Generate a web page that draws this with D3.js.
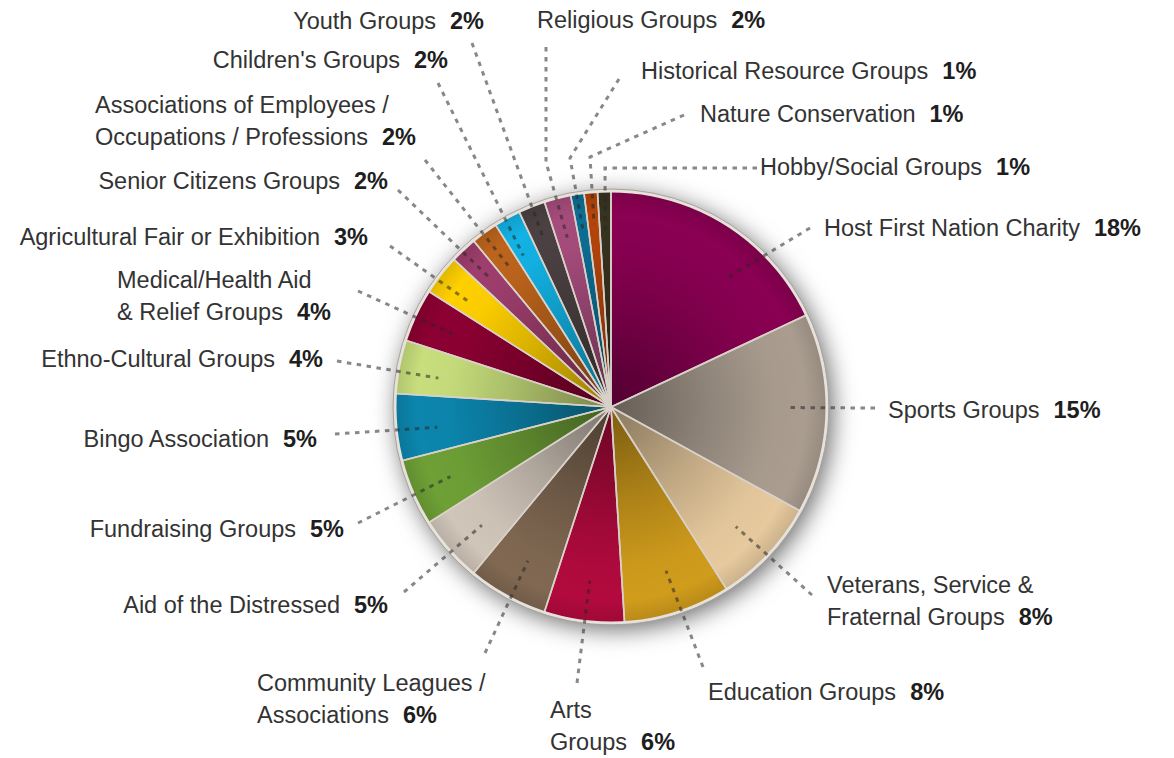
<!DOCTYPE html>
<html>
<head>
<meta charset="utf-8">
<script src="https://cdn.jsdelivr.net/npm/d3@7/dist/d3.min.js"></script>
<style>
  html, body { margin: 0; padding: 0; background: #ffffff; }
  svg { display: block; }
</style>
</head>
<body>
<svg id="chart" width="1174" height="758"></svg>
<script>
// ---- data ----
const categories = [
  "Host First Nation Charity",
  "Sports Groups",
  "Veterans, Service &\nFraternal Groups",
  "Education Groups",
  "Arts\nGroups",
  "Community Leagues /\nAssociations",
  "Aid of the Distressed",
  "Fundraising Groups",
  "Bingo Association",
  "Ethno-Cultural Groups",
  "Medical/Health Aid\n& Relief Groups",
  "Agricultural Fair or Exhibition",
  "Senior Citizens Groups",
  "Associations of Employees /\nOccupations / Professions",
  "Children's Groups",
  "Youth Groups",
  "Religious Groups",
  "Historical Resource Groups",
  "Nature Conservation",
  "Hobby/Social Groups"
];
const values = [18, 15, 8, 8, 6, 6, 5, 5, 5, 4, 4, 3, 2, 2, 2, 2, 2, 1, 1, 1];
const pctLabels = ["18%", "15%", "8%", "8%", "6%", "6%", "5%", "5%", "5%", "4%", "4%", "3%", "2%", "2%", "2%", "2%", "2%", "1%", "1%", "1%"];
const colors = [
  "#8a0052", "#aa9d90", "#e6c99d", "#d09c1c", "#b20a3e", "#806852", "#d0c5b9",
  "#6ea036", "#0c86ae", "#c8de7c", "#8c0032", "#ffd000", "#9e3e6d", "#bc641c",
  "#12b2e4", "#4c4142", "#a64c7c", "#0c6e94", "#b4440a", "#38331f"
];

// ---- layout (label placement, leader bends; inner end via slice angle) ----
const labelLayout = [
  {x: 824, y: 236, anchor: "start", pts: [[810, 228]], t: 0.65, r: 0.81},
  {x: 888, y: 418, anchor: "start", pts: [[875, 408]], t: 0.47, r: 0.81},
  {x: 827, y: 593, anchor: "start", pts: [[812, 595]], t: 0.52, r: 0.80},
  {x: 708, y: 700, anchor: "start", pts: [[703, 667]], t: 0.48, r: 0.80},
  {x: 550, y: 718, anchor: "start", pts: [[577, 683]], t: 0.49, r: 0.81},
  {x: 257, y: 691, anchor: "start", pts: [[485, 653]], t: 0.48, r: 0.81},
  {x: 388, y: 613, anchor: "end",   pts: [[404, 592]], t: 0.44, r: 0.81},
  {x: 344, y: 537, anchor: "end",   pts: [[358, 523]], t: 0.50, r: 0.81},
  {x: 317, y: 447, anchor: "end",   pts: [[335, 434]], t: 0.43, r: 0.81},
  {x: 323, y: 367, anchor: "end",   pts: [[337, 361]], t: 0.41, r: 0.81},
  {x: 117, y: 288, anchor: "start", pts: [[358, 291]], t: 0.47, r: 0.81},
  {x: 368, y: 245, anchor: "end",   pts: [[390, 246]], t: 0.38, r: 0.82},
  {x: 388, y: 189, anchor: "end",   pts: [[398, 190]], t: 0.50, r: 0.82},
  {x: 95,  y: 113, anchor: "start", pts: [[425, 160]], t: 0.50, r: 0.81},
  {x: 448, y: 68,  anchor: "end",   pts: [[438, 83]],  t: 0.32, r: 0.81},
  {x: 484, y: 29,  anchor: "end",   pts: [[472, 43]],  t: 0.47, r: 0.85},
  {x: 537, y: 28,  anchor: "start", pts: [[546, 47], [546, 162]], t: 0.49, r: 0.81},
  {x: 641, y: 79,  anchor: "start", pts: [[619, 79], [570, 158]], t: 0.50, r: 0.83},
  {x: 700, y: 122, anchor: "start", pts: [[684, 115], [590, 157]], t: 0.53, r: 0.85},
  {x: 760, y: 175, anchor: "start", pts: [[757, 168], [605, 168]], t: 0.48, r: 0.81}
];

const cx = 611, cy = 407, R = 216;
const lineH = 32;
const fontFamily = "'Liberation Sans', Arial, Helvetica, sans-serif";

const svg = d3.select("#chart");
const defs = svg.append("defs");

const shadow = defs.append("filter").attr("id", "shadow")
  .attr("x", "-30%").attr("y", "-30%").attr("width", "160%").attr("height", "160%");
shadow.append("feDropShadow").attr("dx", 4).attr("dy", 5).attr("stdDeviation", 12)
  .attr("flood-color", "#000").attr("flood-opacity", 0.6);

// radial shading, in the pie group's local coordinates (centre at 0,0)
const shade = defs.append("radialGradient").attr("id", "shade")
  .attr("gradientUnits", "userSpaceOnUse").attr("cx", 0).attr("cy", 0).attr("r", R);
[[0, 0.40], [0.2, 0.30], [0.45, 0.16], [0.75, 0.02], [0.9, 0.0], [1, 0.12]].forEach(([o, a]) =>
  shade.append("stop").attr("offset", o).attr("stop-color", "#000").attr("stop-opacity", a));

const g = svg.append("g").attr("transform", `translate(${cx},${cy})`);

g.append("circle").attr("r", R + 1).attr("fill", "#ddd").attr("filter", "url(#shadow)");

const pie = d3.pie().sort(null).value(d => d).startAngle(0).endAngle(2 * Math.PI);
const arcs = pie(values);
const arc = d3.arc().innerRadius(0).outerRadius(R);

g.selectAll("path.slice").data(arcs).join("path")
  .attr("class", "slice")
  .attr("d", arc)
  .attr("fill", (d, i) => colors[i]);

g.append("circle").attr("r", R).attr("fill", "url(#shade)");

g.selectAll("path.sep").data(arcs).join("path")
  .attr("class", "sep")
  .attr("d", arc)
  .attr("fill", "none")
  .attr("stroke", "#d8d1c9")
  .attr("stroke-width", 1.6)
  .attr("stroke-linejoin", "round");

g.append("circle").attr("r", R).attr("fill", "none")
  .attr("stroke", "#e6e1db").attr("stroke-width", 3);
g.append("circle").attr("r", R + 2).attr("fill", "none")
  .attr("stroke", "#aaa49e").attr("stroke-width", 1);

// leader lines
const line = d3.line();
arcs.forEach((a, i) => {
  const L = labelLayout[i];
  const ang = a.startAngle + L.t * (a.endAngle - a.startAngle);
  const rr = L.r * R;
  const inner = [cx + rr * Math.sin(ang), cy - rr * Math.cos(ang)];
  svg.append("path")
    .attr("d", line(L.pts.concat([inner])))
    .attr("fill", "none")
    .attr("stroke", "rgba(38,38,38,0.55)")
    .attr("stroke-width", 3)
    .attr("stroke-dasharray", "4.5,5.5");
});

// labels
categories.forEach((name, i) => {
  const L = labelLayout[i];
  const lines = name.split("\n");
  const text = svg.append("text")
    .attr("x", L.x).attr("y", L.y)
    .attr("text-anchor", L.anchor)
    .attr("font-family", fontFamily)
    .attr("font-size", 23.5)
    .attr("fill", "#333333");
  lines.forEach((ln, k) => {
    text.append("tspan")
      .attr("x", L.x)
      .attr("dy", k === 0 ? 0 : lineH)
      .text(ln);
  });
  text.append("tspan")
    .attr("dx", 14)
    .attr("font-weight", "bold")
    .attr("fill", "#1e1e1e")
    .text(pctLabels[i]);
});
</script>
</body>
</html>
